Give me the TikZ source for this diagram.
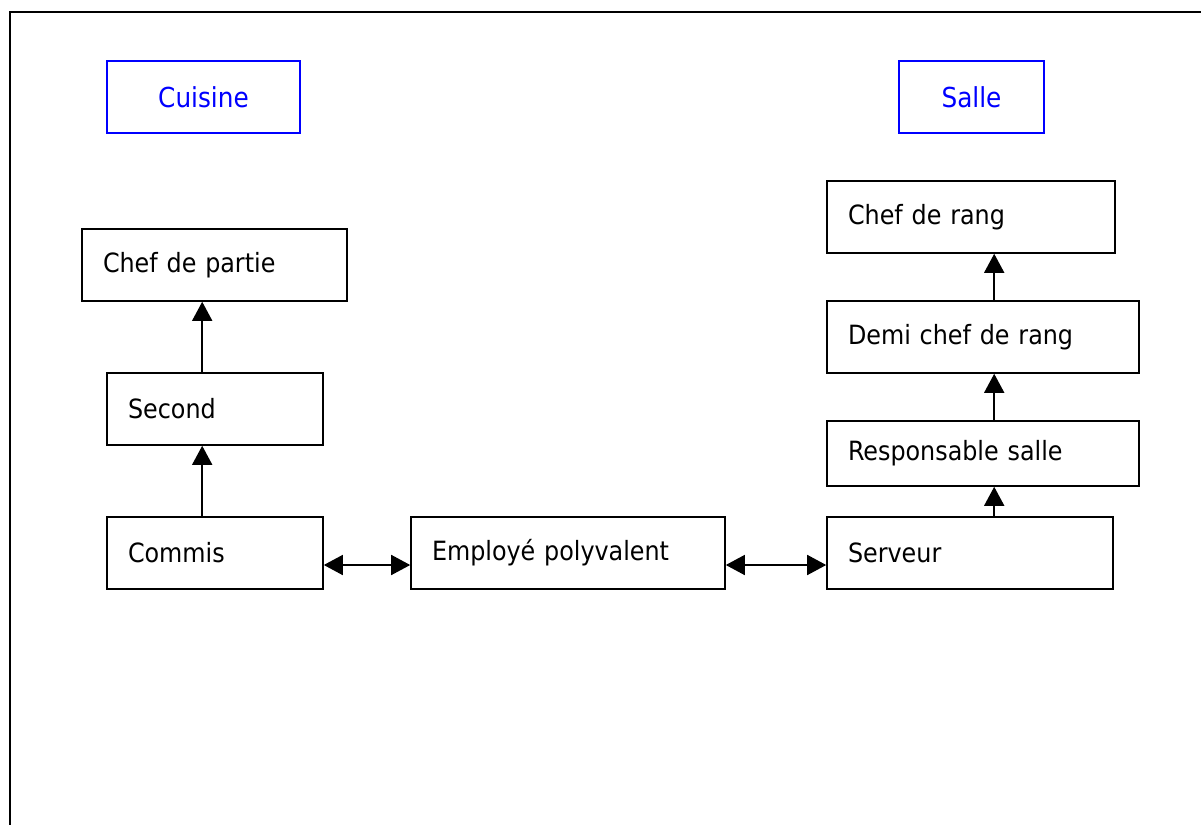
\documentclass[tikz,border=0pt]{standalone}
\usepackage{fontspec}
\setmainfont{DejaVu Sans Condensed}
\usetikzlibrary{positioning}
\usetikzlibrary{arrows.meta}
\tikzset{poste/.style={draw, line width=1.6pt, rectangle, minimum height=72pt, inner xsep=21pt, align=left, font=\fontsize{26.5}{31}\selectfont},
  zone/.style={draw=blue, text=blue, line width=1.6pt, rectangle, minimum height=72pt, font=\fontsize{27.5}{32}\selectfont},
  post/.style={->,>={Triangle[length=19pt,width=20pt]},line width=1.6pt}, both/.style={<->,>={Triangle[length=19pt,width=20pt]},line width=1.6pt}}
\begin{document}
\begin{tikzpicture}[x=1pt,y=-1pt]

  \useasboundingbox (0,0) rectangle (1201,824);
  % cadre
  \draw[line width=2.2pt] (1205,12) -- (10,12) -- (10,830);

  % zones
  \node[zone, minimum width=193pt] (cuisine) at (203.5,97) {Cuisine};
  \node[zone, minimum width=145pt] (salle) at (971.5,97) {Salle};

  % cuisine
  \node[poste, minimum width=265pt, text width=223pt] (chefpartie) at (214.5,265) {Chef de partie};
  \node[poste, minimum width=216pt, text width=174pt] (second) at (215,409) {Second};
  \node[poste, minimum width=216pt, text width=174pt] (commis) at (215,553) {Commis};

  % milieu
  \node[poste, minimum width=314pt, text width=272pt] (employe) at (568,553) {Employé polyvalent};

  % salle
  \node[poste, minimum width=286pt, text width=244pt] (serveur) at (970,553) {Serveur};
  \node[poste, minimum width=312pt, minimum height=65pt, text width=270pt] (responsable) at (983,453.5) {Responsable salle};
  \node[poste, minimum width=312pt, text width=270pt] (demichef) at (983,337) {Demi chef de rang};
  \node[poste, minimum width=288pt, text width=246pt] (chefrang) at (971,217) {Chef de rang};

  % liens
  \draw[post] ([xshift=96pt]commis.north west) -- ([xshift=96pt]second.south west);
  \draw[post] ([xshift=96pt]second.north west) -- ([xshift=121pt]chefpartie.south west);
  \draw[post] ([xshift=168pt]serveur.north west) -- ([xshift=168pt]responsable.south west);
  \draw[post] ([xshift=168pt]responsable.north west) -- ([xshift=168pt]demichef.south west);
  \draw[post] ([xshift=168pt]demichef.north west) -- ([xshift=168pt]chefrang.south west);
  \draw[both] ([yshift=-12pt]commis.east) -- ([yshift=-12pt]employe.west);
  \draw[both] ([yshift=-12pt]employe.east) -- ([yshift=-12pt]serveur.west);

\end{tikzpicture}
\end{document}
